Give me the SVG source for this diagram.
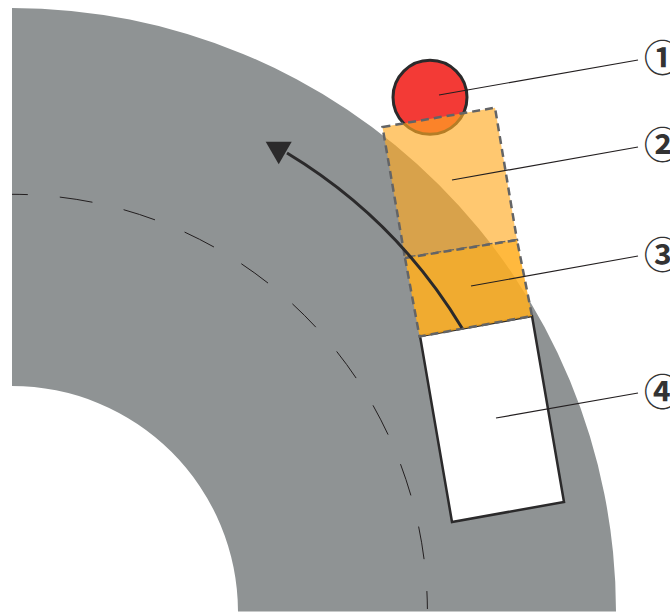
<svg xmlns="http://www.w3.org/2000/svg" width="670" height="613" viewBox="0 0 670 613">
<style>
.lead{fill:none;stroke:#231f20;stroke-width:1.2}
.dash{stroke:#636466;stroke-width:2.500;stroke-dasharray:8 5;stroke-linejoin:miter}
.num{font-family:"Noto Sans CJK JP",sans-serif;font-size:37px;font-weight:700;fill:#333}
</style>
<rect width="670" height="613" fill="#fff"/>
<g id="road">
<path d="M12 8A604 604 0 0 1 616 611.500H238A226 226 0 0 0 12 386Z" fill="#8f9394"/>
<path d="M12 194.300A415.500 417.700 0 0 1 427.400 609" fill="none" stroke="#231f20" stroke-width="1" stroke-dasharray="33 32" stroke-dashoffset="17"/>
</g>
<g id="node-1">
<circle cx="430" cy="97.300" r="37" fill="#f33a36" stroke="#2b2a2b" stroke-width="3"/>
</g>
<g id="node-2">
<path d="M382.500 127L495 107.700L517 240L405 258Z" fill="#ffab24" fill-opacity="0.65" class="dash"/>
</g>
<g id="node-4">
<path d="M420 336L532 316L564 502L452 522Z" fill="#fff" stroke="#2b2a2b" stroke-width="2.500"/>
</g>
<g id="node-3">
<path d="M405 258L517 240L532 316L419.500 336.500Z" fill="#ffae20" fill-opacity="0.865" class="dash"/>
</g>
<g id="connectors">
<path d="M462 328A516 516 0 0 0 287 153" fill="none" stroke="#2b2a2b" stroke-width="3"/>
<path d="M265.700 141.700L291.700 141.700L278.700 164.300Z" fill="#2b2a2b"/>
<path class="lead" d="M439 95L638 60"/>
<path class="lead" d="M452 180L638 147"/>
<path class="lead" d="M471 286L638 256"/>
<path class="lead" d="M496 418L638 393"/>
</g>
<g id="labels">
<text class="num" x="644" y="71.500">①</text>
<text class="num" x="644" y="159">②</text>
<text class="num" x="644" y="268.700">③</text>
<text class="num" x="644" y="406.400">④</text>
</g>
</svg>
